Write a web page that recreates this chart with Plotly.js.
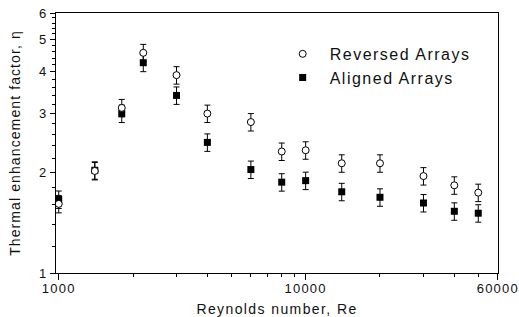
<!DOCTYPE html>
<html>
<head>
<meta charset="utf-8">
<script src="https://cdn.plot.ly/plotly-3.0.1.min.js"></script>
<style>
  html, body { margin: 0; padding: 0; background: #fff; }
  #chart { width: 519px; height: 317px; }
  .xtick text, .ytick text { letter-spacing: 1.2px; }
  .xtitle { letter-spacing: 1.4px; }
  .ytitle { letter-spacing: 1.1px; }
  .legendtext { letter-spacing: 1.5px; }
</style>
</head>
<body>
<div id="chart"></div>
<script>
// Reynolds numbers (x) and thermal enhancement factor (y)
const reynolds = [1000, 1400, 1800, 2200, 3000, 4000, 6000, 8000, 10000, 14000, 20000, 30000, 40000, 50000];
const reversedEta = [1.61, 2.02, 3.12, 4.56, 3.91, 3.00, 2.83, 2.31, 2.33, 2.13, 2.13, 1.95, 1.83, 1.74];
const alignedEta  = [1.66, 2.03, 3.00, 4.26, 3.40, 2.46, 2.04, 1.87, 1.89, 1.75, 1.685, 1.62, 1.53, 1.51];
const errorPercent = 6;

const xTickVals = [1000, 10000, 60000];
const xTickText = ['1000', '10000', '60000'];
const xMinorVals = [2000, 3000, 4000, 5000, 6000, 7000, 8000, 9000, 20000, 30000, 40000, 50000];
const yTickVals = [1, 2, 3, 4, 5, 6];
const yTickText = ['1', '2', '3', '4', '5', '6'];
const yMinorVals = [1.2, 1.4, 1.6, 1.8, 2.2, 2.4, 2.6, 2.8, 3.2, 3.4, 3.6, 3.8,
                    4.2, 4.4, 4.6, 4.8, 5.2, 5.4, 5.6, 5.8];

const FONT = 'Liberation Sans, Arial, sans-serif';
const errStyle = { type: 'percent', value: errorPercent, color: '#000', thickness: 1, width: 3, visible: true };

const traces = [
  {
    x: reynolds, y: alignedEta, name: 'Aligned Arrays', type: 'scatter', mode: 'markers',
    legendrank: 2,
    marker: { symbol: 'square', size: 7, color: '#000', line: { width: 0 } },
    error_y: errStyle
  },
  {
    x: reynolds, y: reversedEta, name: 'Reversed Arrays', type: 'scatter', mode: 'markers',
    legendrank: 1,
    marker: { symbol: 'circle', size: 7, color: '#fff', line: { width: 1, color: '#000' } },
    error_y: errStyle
  }
];

const layout = {
  width: 519, height: 317,
  margin: { l: 56, r: 21, t: 13, b: 44 },
  paper_bgcolor: '#fff', plot_bgcolor: '#fff',
  font: { family: FONT, color: '#111', size: 13 },
  showlegend: true,
  legend: {
    x: 0.497, y: 0.908, xanchor: 'left', yanchor: 'top',
    bgcolor: 'rgba(0,0,0,0)', borderwidth: 0,
    font: { family: FONT, size: 16, color: '#111' },
    itemwidth: 44
  },
  xaxis: {
    type: 'log', range: [Math.log10(975), Math.log10(60000) + 0.0008],
    tickmode: 'array', tickvals: xTickVals, ticktext: xTickText,
    ticks: 'outside', ticklen: 6, tickwidth: 1, tickcolor: '#000',
    ticklabelstandoff: -3,
    ticklabeloverflow: 'allow',
    showline: true, linecolor: '#000', linewidth: 1, mirror: true,
    showgrid: false, zeroline: false,
    tickfont: { family: FONT, size: 13, color: '#111' },
    minor: { tickmode: 'array', tickvals: xMinorVals, ticks: 'outside', ticklen: 3, tickcolor: '#000', showgrid: false },
    title: { text: 'Reynolds number, Re', font: { family: FONT, size: 14, color: '#111' }, standoff: 10 }
  },
  yaxis: {
    type: 'log', range: [0, Math.log10(6)],
    tickmode: 'array', tickvals: yTickVals, ticktext: yTickText,
    ticks: 'outside', ticklen: 5, tickwidth: 1, tickcolor: '#000',
    showline: true, linecolor: '#000', linewidth: 1, mirror: true,
    showgrid: false, zeroline: false,
    tickfont: { family: FONT, size: 13, color: '#111' },
    minor: { tickmode: 'array', tickvals: yMinorVals, ticks: 'outside', ticklen: 3, tickcolor: '#000', showgrid: false },
    title: { text: 'Thermal enhancement factor, η', font: { family: FONT, size: 14, color: '#111' }, standoff: 15 }
  }
};

Plotly.newPlot('chart', traces, layout, { staticPlot: true, displayModeBar: false });
</script>
</body>
</html>
